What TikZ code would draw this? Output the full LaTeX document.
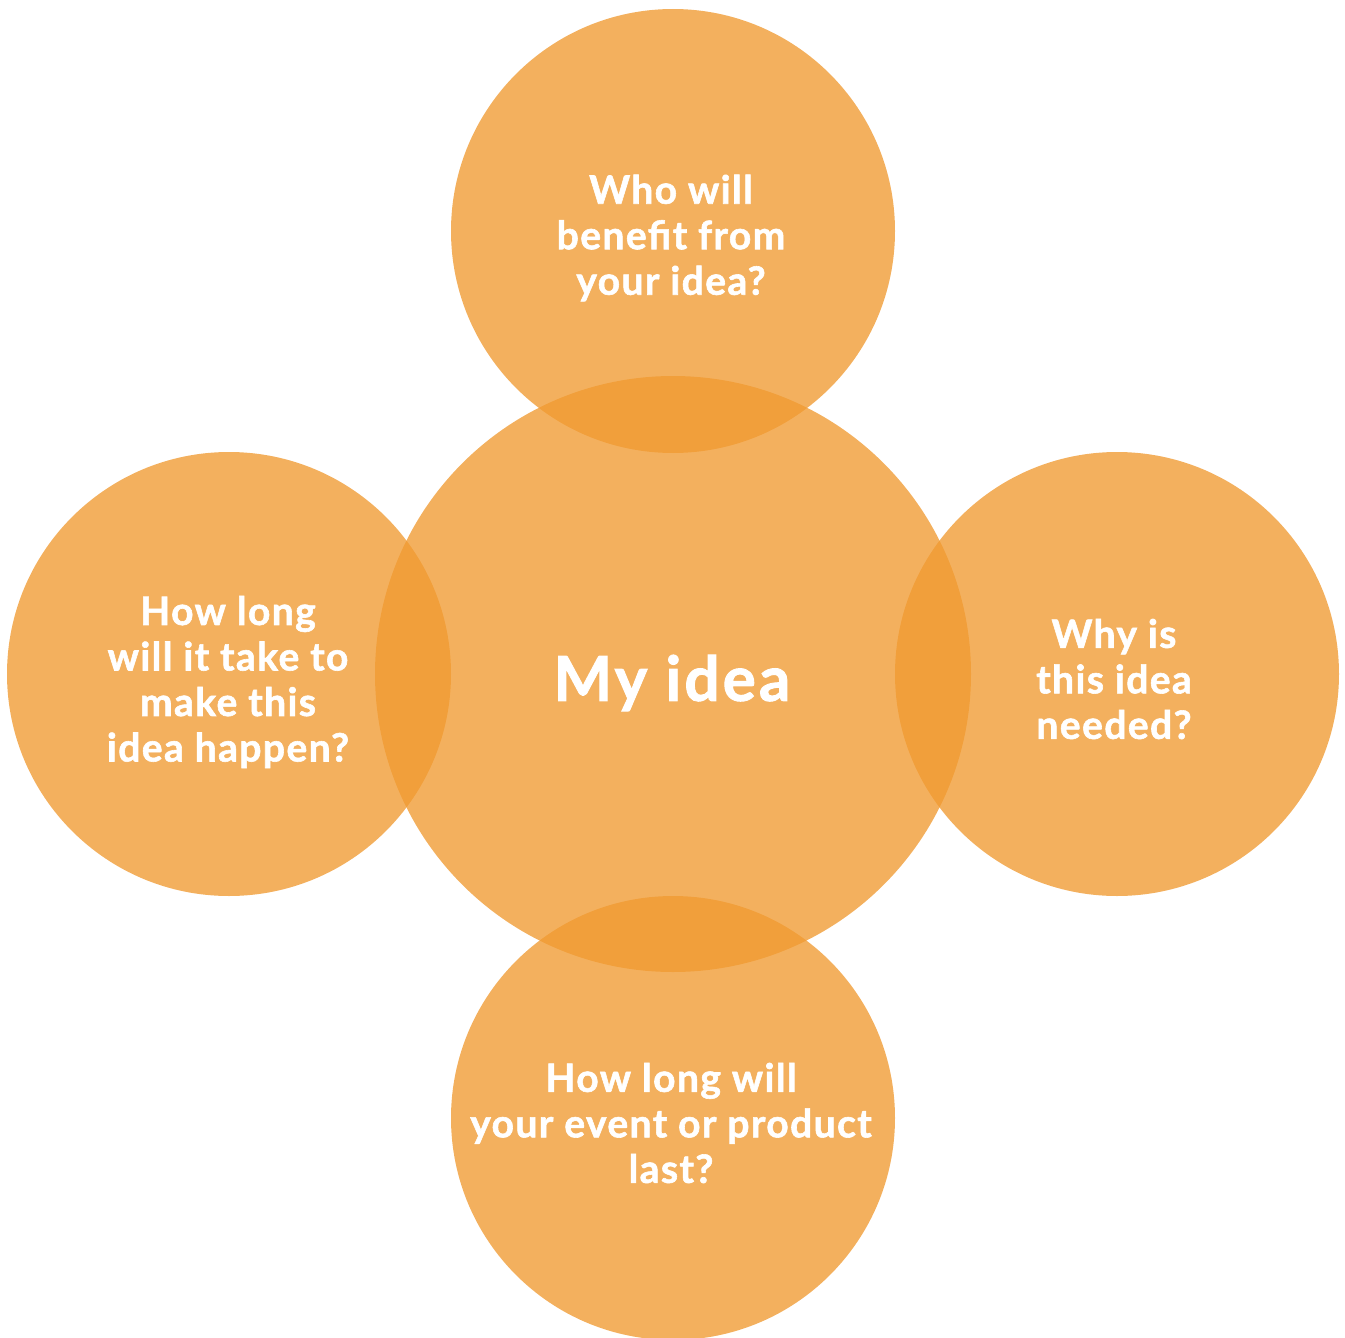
\documentclass[tikz,border=0pt]{standalone}
\usepackage{fontspec}
\setmainfont{Lato}
\newfontfamily\qfont[LetterSpace=3.6, BoldFeatures={FakeBold=1.5}]{Lato}
\newfontfamily\mfont[LetterSpace=5, BoldFeatures={FakeBold=1.5}]{Lato}
\definecolor{idea}{HTML}{F09A31}
\begin{document}
\begin{tikzpicture}[x=1pt,y=-1pt,
  bubble/.style={circle, fill=idea, fill opacity=0.78, draw=none, inner sep=0pt},
  small/.style={circle, minimum size=444pt, bubble},
  big/.style={circle, minimum size=596pt, bubble},
  qtext/.style={text=white, align=center, font=\qfont\fontsize{39}{45.5}\selectfont\bfseries, inner sep=0pt},
  maintext/.style={text=white, font=\mfont\fontsize{62}{70}\selectfont\bfseries, inner sep=0pt}]
\useasboundingbox (0,0) rectangle (1345,1338);
\node[big] (center) at (673,674) {};
\node[small] (top) at (673,231) {};
\node[small] (left) at (229,674) {};
\node[small] (right) at (1117,674) {};
\node[small] (bottom) at (673,1118) {};
\node[maintext] (tmain) at (672,683) {My idea};
\node[qtext] (ttop) at (671,238) {Who will\\benefit from\\your idea?};
\node[qtext] (tleft) at (228,682) {How long\\will it take to\\make this\\idea happen?};
\node[qtext] (tright) at (1114,679) {Why is\\this idea\\needed?};
\node[qtext] (tbottom) at (671,1123) {How long will\\your event or product\\last?};
\end{tikzpicture}
\end{document}
